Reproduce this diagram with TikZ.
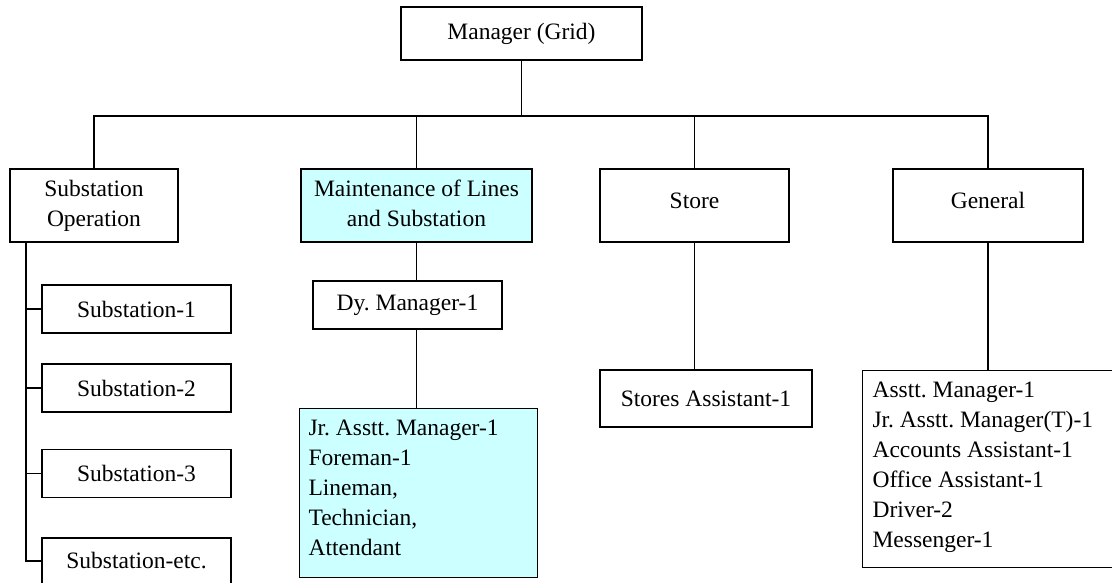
\documentclass[tikz,border=0pt]{standalone}
\usepackage{fontspec}
\setmainfont{Liberation Serif}
\usepackage{tikz}
\definecolor{paleaqua}{HTML}{CCFFFF}
\frenchspacing

\begin{document}
\begin{tikzpicture}[
  x=1pt, y=-1pt,
  box/.style={draw, line width=1.1pt, align=center, inner sep=0pt, font=\fontsize{23.5}{30}\selectfont},
  shaded/.style={box, fill=paleaqua},
  listbox/.style={box, anchor=north west, inner xsep=9pt, inner ysep=11pt},
  link/.style={line width=1.1pt},
]
  \useasboundingbox (0,0) rectangle (1112,582);

  \node[box, minimum width=241pt, minimum height=53pt] (grid) at (521.5,33.5) {Manager (Grid)};

  % sections
  \node[box, minimum width=168pt, minimum height=73pt, text depth=4pt] (subop) at (94,205.5) {Substation\\Operation};
  \node[shaded, minimum width=231pt, minimum height=73pt, text depth=4pt] (maint) at (416.5,205.5) {Maintenance of Lines\\and Substation};
  \node[box, minimum width=189pt, minimum height=73pt, text depth=10pt] (store) at (694.5,205.5) {Store};
  \node[box, minimum width=190pt, minimum height=73pt, text depth=10pt] (general) at (988,205.5) {General};

  % substations
  \node[box, minimum width=189pt, minimum height=48pt] (sub1) at (136.5,309) {Substation-1};
  \node[box, minimum width=189pt, minimum height=48pt] (sub2) at (136.5,388) {Substation-2};
  \node[box, minimum width=189pt, minimum height=48pt] (sub3) at (136.5,473.5) {Substation-3};
  \node[box, minimum width=189pt, minimum height=46pt] (subetc) at (136.5,561) {Substation-etc.};

  % staff
  \node[box, minimum width=189pt, minimum height=48pt] (dym) at (407.5,305) {Dy. Manager-1};
  \node[shaded, listbox] (jr) at (299,408) {\parbox[t][147pt][t]{220pt}{Jr. Asstt. Manager-1\\Foreman-1\\Lineman,\\Technician,\\Attendant}};
  \node[box, minimum width=212pt, minimum height=57pt] (sa) at (706,398.5) {Stores Assistant-1};
  \node[listbox, inner xsep=10pt] (genlist) at (862,370) {\parbox[t][175pt][t]{242pt}{Asstt. Manager-1\\Jr. Asstt. Manager(T)-1\\Accounts Assistant-1\\Office Assistant-1\\Driver-2\\Messenger-1}};

  % connectors
  \coordinate (bus) at (0,116);
  \coordinate (rail) at (26,242);
  \draw[link] (grid.south) -- (grid.south |- bus);
  \draw[link] (subop.north) |- (general.north |- bus) -- (general.north);
  \draw[link] (maint.north) -- (maint.north |- bus);
  \draw[link] (store.north) -- (store.north |- bus);
  \draw[link] (rail) |- (subetc.west);
  \foreach \s in {sub1,sub2,sub3}
    \draw[link] (\s.west) -- (\s.west -| rail);
  \draw[link] (maint.south) -- (maint.south |- dym.north);
  \draw[link] (dym.south -| maint.south) -- (jr.north -| maint.south);
  \draw[link] (store.south) -- (store.south |- sa.north);
  \draw[link] (general.south) -- (general.south |- genlist.north);
\end{tikzpicture}
\end{document}
